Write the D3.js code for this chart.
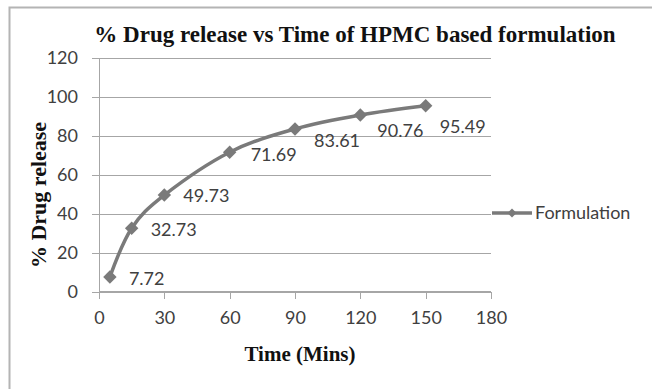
<!DOCTYPE html>
<html>
<head>
<meta charset="utf-8">
<script src="https://cdn.jsdelivr.net/npm/d3@7"></script>
<style>
  html, body { margin: 0; padding: 0; background: #fff; }
  svg { display: block; }
</style>
</head>
<body>
<svg id="chart" width="652" height="389"></svg>
<script>
// Dissolution data: time points (minutes) and cumulative % drug released
const times = [5, 15, 30, 60, 90, 120, 150];
const release = [7.72, 32.73, 49.73, 71.69, 83.61, 90.76, 95.49];
const xTicks = [0, 30, 60, 90, 120, 150, 180];
const yTicks = [0, 20, 40, 60, 80, 100, 120];
const seriesName = "Formulation";

// Label placement relative to each marker (layout only)
const labelDx = [19, 19, 19, 21, 19, 17, 14];
const labelDy = [2, 1.5, 1, 2, 12, 16, 21];

const svg = d3.select("#chart");
const serif = "'Liberation Serif', 'Times New Roman', serif";
const sans = "Lato, 'Open Sans', sans-serif";
const textColor = "#404040";
const lineColor = "#7a7a7a";
const gridColor = "#a6a6a6";

// Outer frame (only left and top edges fall inside the view)
svg.append("rect")
  .attr("x", 9.5).attr("y", 7.5)
  .attr("width", 700).attr("height", 400)
  .attr("fill", "#fff")
  .attr("stroke", "#b4b4b4").attr("stroke-width", 2);

const x = d3.scaleLinear().domain([0, 180]).range([99, 491]);
const y = d3.scaleLinear().domain([0, 120]).range([292, 58]);

// Horizontal gridlines + y axis
const yAxis = d3.axisLeft(y).tickValues(yTicks).tickSize(7).tickPadding(14)
  .tickFormat(d3.format("d"));
const gy = svg.append("g").attr("transform", `translate(${x(0)},0)`).call(yAxis);
gy.select(".domain").attr("stroke", gridColor).attr("stroke-width", 1.2);
gy.selectAll(".tick line").attr("stroke", gridColor).attr("stroke-width", 1.2)
  .attr("x2", (d) => d === 0 ? -7 : x(180) - x(0)).attr("x1", -7);
gy.selectAll(".tick text")
  .attr("font-family", sans).attr("font-size", 18).attr("fill", textColor);

// x axis
const xAxis = d3.axisBottom(x).tickValues(xTicks).tickSize(7).tickPadding(12)
  .tickFormat(d3.format("d"));
const gx = svg.append("g").attr("transform", `translate(0,${y(0)})`).call(xAxis);
gx.select(".domain").attr("stroke", gridColor).attr("stroke-width", 1.2)
  .attr("d", `M${x(0)},0H${x(180)}`);
gx.selectAll(".tick line").attr("stroke", gridColor).attr("stroke-width", 1.2);
gx.selectAll(".tick text")
  .attr("font-family", sans).attr("font-size", 18).attr("fill", textColor);
svg.selectAll(".domain, .tick line").attr("shape-rendering", "crispEdges");

// Smoothed release curve
const pts = times.map((t, i) => [t, release[i]]);
const line = d3.line()
  .x((d) => x(d[0])).y((d) => y(d[1]))
  .curve(d3.curveCardinal.tension(0));
svg.append("path")
  .datum(pts)
  .attr("d", line)
  .attr("fill", "none")
  .attr("stroke", lineColor)
  .attr("stroke-width", 3.5)
  .attr("stroke-linejoin", "round");

// Diamond markers
const diamond = d3.symbol().type(d3.symbolSquare).size(90);
svg.append("g").selectAll("path")
  .data(pts)
  .join("path")
  .attr("d", diamond)
  .attr("transform", (d) => `translate(${x(d[0])},${y(d[1])}) rotate(45)`)
  .attr("fill", lineColor);

// Value labels
svg.append("g").selectAll("text")
  .data(pts)
  .join("text")
  .attr("x", (d, i) => x(d[0]) + labelDx[i])
  .attr("y", (d, i) => y(d[1]) + labelDy[i])
  .attr("dy", "0.35em")
  .attr("font-family", sans).attr("font-size", 18).attr("fill", textColor)
  .text((d) => d[1].toFixed(2));

// Title
svg.append("text")
  .attr("x", 355).attr("y", 42)
  .attr("text-anchor", "middle")
  .attr("font-family", serif).attr("font-weight", "bold")
  .attr("font-size", 23).attr("fill", "#111")
  .text("% Drug release vs Time of HPMC based formulation");

// Axis titles
svg.append("text")
  .attr("x", 300).attr("y", 361)
  .attr("text-anchor", "middle")
  .attr("font-family", serif).attr("font-weight", "bold")
  .attr("font-size", 21).attr("fill", "#111")
  .text("Time (Mins)");

svg.append("text")
  .attr("transform", "translate(46,195) rotate(-90)")
  .attr("text-anchor", "middle")
  .attr("font-family", serif).attr("font-weight", "bold")
  .attr("font-size", 22).attr("fill", "#111")
  .text("% Drug release");

// Legend
const lg = svg.append("g").attr("transform", `translate(492,${y(40) - 1})`);
lg.append("line").attr("x1", 0).attr("x2", 40).attr("y1", 0).attr("y2", 0)
  .attr("stroke", lineColor).attr("stroke-width", 3.5);
lg.append("path")
  .attr("d", d3.symbol().type(d3.symbolSquare).size(40))
  .attr("transform", "translate(20,0) rotate(45)")
  .attr("fill", lineColor);
lg.append("text")
  .attr("x", 43).attr("y", 0).attr("dy", "0.35em")
  .attr("font-family", sans).attr("font-size", 18).attr("fill", textColor)
  .text(seriesName);
</script>
</body>
</html>
